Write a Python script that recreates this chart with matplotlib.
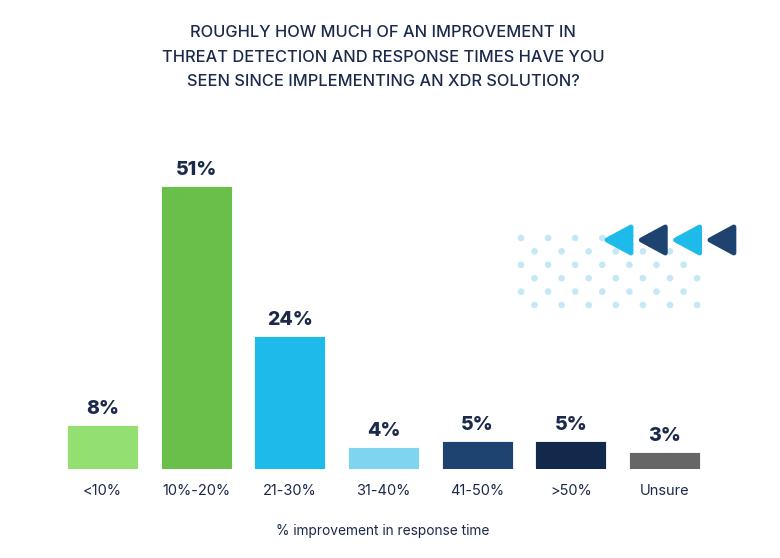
import matplotlib.pyplot as plt
from matplotlib.patches import Polygon, Circle

plt.rcParams['font.family'] = ['Inter', 'DejaVu Sans']

categories = ['<10%', '10%-20%', '21-30%', '31-40%', '41-50%', '>50%', 'Unsure']
values = [8, 51, 24, 4, 5, 5, 3]
colors = ['#93DF72', '#6ABF4B', '#1EBBEA', '#7FD5F0', '#1F4370', '#13294B', '#666666']
title = ('ROUGHLY HOW MUCH OF AN IMPROVEMENT IN\n'
         'THREAT DETECTION AND RESPONSE TIMES HAVE YOU\n'
         'SEEN SINCE IMPLEMENTING AN XDR SOLUTION?')
xlabel = '% improvement in response time'
navy = '#1B2A4A'

W, H = 780, 558
fig = plt.figure(figsize=(W / 100, H / 100), dpi=100)

# main bar axes, placed in pixel terms
left, right, base = 55.6, 711.4, 469
ax = fig.add_axes([left / W, (H - base) / H, (right - left) / W, 333 / H])
ax.patch.set_alpha(0)
xs = list(range(len(categories)))
ax.bar(xs, values, width=0.76, color=colors, edgecolor='white', linewidth=0.6)
ax.set_xlim(-0.5, len(categories) - 0.5)
ax.set_ylim(0, 60)
for x, v in zip(xs, values):
    ax.annotate(f'{v}%', (x, v), xytext=(0, 5), textcoords='offset points',
                ha='center', va='bottom', fontsize=14, fontweight='heavy', color=navy)
ax.set_xticks(xs)
ax.set_xticklabels(categories, fontsize=10.5, color=navy)
ax.tick_params(axis='x', length=0, pad=11)
ax.set_yticks([])
for s in ax.spines.values():
    s.set_visible(False)

# overlay axes in pixel coordinates for text and decoration
ov = fig.add_axes([0, 0, 1, 1], zorder=3)
ov.set_xlim(0, W)
ov.set_ylim(H, 0)
ov.axis('off')
ov.text(383, 57, title, ha='center', va='center', fontsize=11.8, color=navy,
        linespacing=1.8, fontweight='medium')
ov.text(383, 531, xlabel, ha='center', va='center', fontsize=9.9, color=navy)

# dotted pattern
for r in range(6):
    y = 238 + r * 13.4
    x0 = 521 if r % 2 == 0 else 534.5
    n = 4 if r == 0 else (6 if r == 1 else 7)
    for i in range(n):
        ov.add_patch(Circle((x0 + i * 27.1, y), 3.3, color='#C4E8F8', lw=0))

# left-pointing triangles
tri_colors = ['#1EBBEA', '#1F4370', '#1EBBEA', '#1F4370']
for i, c in enumerate(tri_colors):
    x0 = 607 + i * 34.3
    pts = [(x0, 240), (x0 + 24, 227), (x0 + 24, 253)]
    ov.add_patch(Polygon(pts, closed=True, facecolor=c, edgecolor=c, lw=3.5,
                         joinstyle='round', zorder=3))

fig.savefig('out.png', dpi=100, facecolor='white')
